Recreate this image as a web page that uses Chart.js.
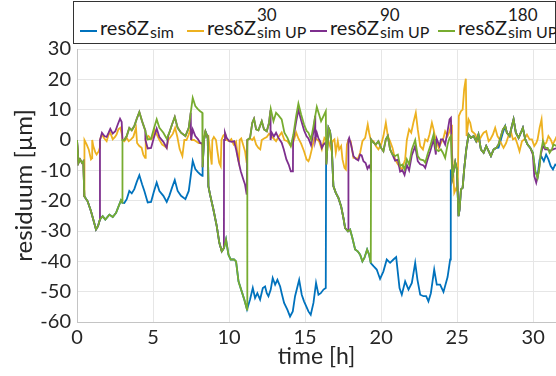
<!DOCTYPE html>
<html>
<head>
<meta charset="utf-8">
<script src="https://cdn.jsdelivr.net/npm/chart.js@4/dist/chart.umd.min.js"></script>
<style>
  body { margin: 0; background: #fff; }
  #wrap { position: relative; width: 556px; height: 376px; overflow: hidden; }
  #legend {
    position: absolute; left: 73px; top: 1px; width: 481px; height: 41px;
    border: 1.3px solid #333; background: #fff; font-family: Lato, sans-serif; color: #1a1a1a;
  }
  .item { position: absolute; top: 0; height: 40px; }
  .item span { position: absolute; white-space: nowrap; line-height: 1; }
  .item i { position: absolute; left: 0; top: 28px; width: 17px; height: 2px; }
  .m { font-size: 20px; left: 20px; top: 15px; }
  .up { font-size: 17px; top: 4px; }
  .dn { font-size: 16px; top: 22px; }
</style>
</head>
<body>
<div id="wrap">
  <canvas id="chart" width="556" height="376"></canvas>
  <div id="legend"></div>
</div>
<script>
// time [h] / residuum [µm] points
const blue = [[0,0],[0.1,-7.5],[0.2,-6.4],[0.33,-7.5],[0.42,-7.0],[0.48,-18.5],[0.7,-20.2],[0.92,-23.5],[1.07,-26.2],[1.25,-29.5],[1.38,-28.4],[1.51,-26.2],[1.69,-25.1],[1.86,-26.2],[2.13,-24.6],[2.35,-25.4],[2.57,-24.0],[2.74,-21.8],[2.89,-19.9],[2.98,-20.7],
  [3.11,-20.8],[3.27,-19.5],[3.44,-16.8],[3.6,-17.6],[3.77,-16.2],[3.93,-13.8],[4.1,-11.6],[4.28,-14.6],[4.43,-16.8],[4.65,-20.6],[4.87,-20.4],[5.04,-17.3],[5.24,-14.0],[5.42,-16.8],[5.68,-18.4],[5.9,-20.4],[6.07,-18.4],[6.25,-15.7],[6.43,-13.2],[6.62,-16.8],[6.84,-18.4],[7.13,-19.5],[7.35,-16.8],[7.48,-11.8],[7.61,-6.9],[7.78,-9.6],[7.95,-10.6],[8.1,-11.3],[8.24,-11.8],
  [8.26,-9.0],[8.35,0],[8.45,2.8],[8.55,1.5],[8.6,0.5],[8.64,-15.2],[8.75,-18],[8.97,-22.9],[9.19,-28.4],[9.36,-33.9],[9.52,-36.7],[9.67,-35.6],[9.8,-32.8],[9.96,-37.8],[10.11,-39.4],[10.33,-39.4],[10.46,-40.0],[10.62,-46.6],[10.83,-49.9],[11.0,-52.6],[11.18,-55.9],
  [11.38,-52.6],[11.56,-48.8],[11.71,-52.1],[11.86,-50.5],[12.04,-52.6],[12.22,-48.8],[12.37,-48.3],[12.48,-50.5],[12.59,-51.5],[12.74,-49.3],[12.87,-45.5],[13.03,-47.7],[13.18,-46.1],[13.36,-48.3],[13.46,-50.5],[13.62,-53.7],[13.84,-56.0],[14.01,-58.2],[14.19,-56.5],[14.34,-51.5],[14.5,-48.3],[14.61,-46.1],[14.78,-51.0],[14.93,-53.2],[15.07,-54.8],[15.22,-56.5],[15.37,-57.6],[15.55,-53.7],[15.72,-47.1],[15.88,-51.0],[16.03,-50.5],[16.21,-49.3],[16.36,-48.8],
  [16.38,-8.1],[16.54,4.0],[16.64,2.9],[16.75,-2.0],[16.86,-15.2],[17.02,-17.4],[17.19,-19.1],[17.37,-21.9],[17.52,-25.7],[17.63,-29.0],[17.81,-30.1],[17.96,-29.5],[18.11,-32.3],[18.29,-36.1],[18.46,-36.7],[18.62,-37.8],[18.77,-40.0],[18.9,-38.9],[19.08,-36.1],[19.21,-37.8],[19.32,-40.6],
  [19.5,-41.6],[19.71,-42.7],[19.93,-45.8],[20.15,-43.3],[20.37,-39.4],[20.59,-40.5],[20.81,-39.4],[20.99,-38.6],[21.21,-48.8],[21.36,-51.0],[21.58,-46.6],[21.8,-49.3],[22.02,-47.1],[22.24,-40.5],[22.39,-46.1],[22.57,-51.0],[22.79,-51.5],[22.96,-51.5],[23.11,-53.2],[23.27,-50.5],[23.49,-42.7],[23.66,-47.7],[23.88,-47.7],[24.1,-50.1],[24.37,-45.2],[24.54,-39.4],
  [24.58,-9.7],[24.68,-12.5],[24.87,-7.3],[24.98,-9.7],[25.09,-25.1],[25.16,-22.9],[25.25,-16.3],[25.36,-15.8],[25.46,-9.7],[25.6,-3.1],[25.75,1.8],[25.9,0.7],[26.08,1.3],[26.25,-0.4],[26.4,1.8],[26.56,-3.1],[26.74,-4.2],[26.91,-2.0],[27.07,-3.7],[27.22,-5.3],[27.4,-3.1],[27.57,-2.6],[27.72,-2.5],[27.88,0.2],[28.01,2.5],[28.16,4.6],[28.27,2.4],[28.45,1.3],[28.6,4.6],[28.71,6.8],[28.86,2.4],[29.04,0.7],[29.19,2.4],[29.32,4.0],[29.48,0.2],[29.63,-1.5],[29.81,-2.6],[29.98,-4.2],
  [30.14,-10.5],[30.29,-12.0],[30.42,-6.5],[30.55,-5.5],[30.7,-7.0],[30.85,-4.8],[31.0,-6.4],[31.15,-8.6],[31.3,-9.7],[31.45,-8.1],[31.55,-8.5]];

const orange = [[0,0],[0.1,-7.5],[0.2,-6.4],[0.33,-7.5],[0.42,-7.0],[0.48,-18.5],[0.49,0],[0.64,-1.5],[0.77,-3.1],[0.92,-6.4],[0.99,-6.0],[1.0,0],[1.07,-2.0],[1.2,-4.0],[1.29,-4.8],[1.43,-3.7],[1.5,-2.5],[1.51,0],[1.64,1.8],[1.8,0.5],[1.95,-0.4],[2.08,1.8],[2.19,2.4],[2.35,0.2],[2.5,1.0],[2.6,1.8],[2.72,3.5],[2.85,4.0],[2.95,2.0],[3.0,0],
  [3.11,-0.4],[3.27,0.7],[3.4,-0.4],[3.55,0.2],[3.7,1.0],[3.88,4.0],[3.95,-1.0],[4.1,-2.0],[4.25,-2.6],[4.36,-4.8],[4.48,-5.9],[4.52,0.5],[4.7,1.3],[4.87,0.2],[5.0,1.0],[5.09,3.5],[5.25,1.8],[5.4,0.2],[5.6,-1.5],[5.75,-2.0],[5.9,-2.6],[6.0,0],[6.15,1.0],[6.3,2.0],[6.45,4.0],[6.6,1.0],[6.75,-3.0],[6.93,-5.3],[7.06,0],[7.2,0],[7.35,1.8],[7.45,3.5],[7.54,0],[7.7,0],[7.85,-0.5],[8.0,-1.0],[8.1,-1.0],[8.24,-1.5],[8.3,0],
  [8.42,2.5],[8.55,1.0],[8.64,1.3],[8.75,-3.7],[8.86,-8.1],[8.9,0],[9.0,1.0],[9.14,0],[9.25,-4.2],[9.35,-7.5],[9.45,-8.6],[9.5,0],[9.62,1.5],[9.75,2.0],[9.86,0],[10.02,-0.4],[10.15,0.3],[10.3,-1.5],[10.46,-0.5],[10.58,-5.9],[10.65,-7.5],[10.7,0],[10.8,0.5],[10.92,-1.5],[11.05,-3.7],[11.16,-7.5],[11.2,0],
  [11.38,0.5],[11.53,0],[11.64,0.8],[11.78,-1.5],[11.93,-2.6],[12.05,-3.1],[12.15,0],[12.3,0.5],[12.48,1.0],[12.63,2.1],[12.74,1.5],[12.92,0.5],[13.09,-0.4],[13.25,1.0],[13.46,2.5],[13.64,0],[13.84,-0.4],[14.06,-2.0],[14.23,-0.6],[14.41,2.5],[14.56,0.5],[14.74,-1.2],[14.93,-3.7],[15.1,-6.4],[15.22,-7.0],[15.3,-6.0],
  [15.44,-3.1],[15.61,0.7],[15.77,0.2],[15.92,-0.4],[16.1,-3.1],[16.27,0.7],[16.4,0],[16.54,-0.4],[16.71,-3.1],[16.8,-0.4],[16.93,0.2],[17.02,-4.2],[17.15,-0.4],[17.24,-3.1],[17.37,-2.0],[17.46,-6.4],[17.59,-9.2],[17.68,-9.7],[17.75,-1.5],[17.85,0],[18.0,-0.4],[18.18,-5.9],[18.33,-5.9],[18.46,-6.4],[18.62,-4.2],[18.77,-0.4],[18.95,0.7],[19.12,5.1],[19.21,2.4],[19.34,-0.4],
  [19.5,-0.4],[19.65,-2.0],[19.82,-3.1],[20.0,-1.5],[20.15,1.3],[20.31,5.7],[20.44,1.3],[20.59,-0.4],[20.75,-2.6],[20.92,-6.4],[21.1,-8.0],[21.25,-9.0],[21.36,-9.7],[21.58,-6.4],[21.69,0],[21.84,3.5],[21.98,2.4],[22.12,5.7],[22.28,9.0],[22.41,3.5],[22.57,-2.0],[22.75,-3.1],[22.9,0.2],[23.05,-0.4],[23.18,1.8],[23.34,5.7],[23.45,3.5],[23.56,0.7],[23.67,-0.4],[23.78,-2.6],[23.93,-1.0],[24.1,0.7],[24.21,2.9],[24.37,1.3],[24.5,2.9],[24.6,5.0],
  [24.66,-4.2],[24.72,-8.6],[24.81,-17.4],[24.94,-15.8],[25.03,-16.9],[25.11,7.9],[25.25,9.5],[25.36,10.0],[25.46,16.7],[25.57,20.2],[25.62,1.3],[25.75,6.8],[25.86,5.7],[25.97,2.9],[26.08,2.4],[26.2,1.8],[26.34,-0.4],[26.48,0.2],[26.6,1.3],[26.74,2.4],[26.91,2.9],[27.07,-0.4],[27.18,0.2],[27.35,1.8],[27.5,4.0],[27.65,1.3],[27.78,0.2],[27.94,-1.5],[28.05,-2.6],[28.22,-1.0],[28.37,1.3],[28.53,2.9],[28.67,0.2],[28.82,0.7],[28.97,-1.5],[29.1,-3.7],[29.26,-0.4],[29.41,0.2],[29.59,1.8],[29.76,0.2],[29.92,0.2],[30.07,-2.0],[30.2,-1.0],[30.29,0.2],[30.42,4.0],[30.55,6.8],[30.64,0.2],[30.73,-1.5],[30.86,-0.9],[31.0,1.3],[31.15,0.2],[31.28,-1.5],[31.4,-0.4],[31.55,1.3]];

const purple = [[0,0],[0.1,-7.5],[0.2,-6.4],[0.33,-7.5],[0.42,-7.0],[0.48,-18.5],[0.7,-20.2],[0.92,-23.5],[1.07,-26.2],[1.25,-29.5],[1.38,-28.4],[1.5,-26.3],
  [1.51,0],[1.64,2.4],[1.8,1.3],[1.95,1.0],[2.08,2.4],[2.19,3.7],[2.35,2.1],[2.52,2.9],[2.68,5.1],[2.83,7.0],[2.94,5.9],[2.99,0],
  [3.11,0],[3.27,1.3],[3.44,4.0],[3.6,3.2],[3.77,4.6],[3.93,7.0],[4.1,9.2],[4.28,6.2],[4.43,4.0],[4.49,3.2],
  [4.5,0],[4.65,-2.8],[4.87,-2.6],[5.04,0.5],[5.24,3.8],[5.42,1.0],[5.68,-0.6],[5.9,-2.6],
  [6.0,1.4],[6.07,2.4],[6.25,5.1],[6.43,7.6],[6.62,4.0],[6.84,2.4],[7.13,1.3],[7.35,4.0],[7.48,9.0],
  [7.5,0],[7.61,3.5],[7.78,1.3],[7.95,0.3],[8.1,-1.0],[8.24,-1.0],
  [8.26,-9.0],[8.35,0],[8.45,2.8],[8.55,1.5],[8.6,0.5],[8.64,-15.2],[8.75,-18],[8.97,-22.9],[9.19,-28.4],[9.36,-33.9],[9.52,-36.7],[9.66,-35.6],
  [9.67,0],[9.73,2.4],[9.84,0.7],[10.02,-0.4],[10.18,-0.6],[10.33,-0.4],[10.46,-3.1],[10.62,-7.0],[10.77,-10.3],[10.94,-13.0],[11.05,-14.7],[11.16,-18.0],
  [11.2,0],[11.38,0.7],[11.53,5.7],[11.64,7.0],[11.78,3.5],[11.93,3.2],[12.15,6.2],[12.3,3.5],[12.48,2.9],[12.63,5.7],[12.72,9.8],
  [12.73,0],[12.81,2.4],[12.95,1.2],[13.09,2.4],[13.25,0.7],[13.46,-0.9],[13.6,-3.1],[13.77,-6.4],[13.92,-8.1],[14.06,-10.3],[14.2,-10.3],
  [14.21,0],[14.41,6.0],[14.56,10.0],[14.74,6.5],[14.93,3.2],[15.1,1.2],[15.22,0.5],[15.39,-1.7],[15.55,2.7],[15.66,8.0],
  [15.67,0],[15.77,2.4],[15.88,0.5],[16.0,-0.5],[16.1,-2.6],[16.21,-1.5],[16.36,-0.8],
  [16.4,-8.1],[16.54,4.0],[16.64,2.9],[16.75,-2.0],[16.86,-15.2],[17.02,-17.4],[17.19,-19.1],[17.37,-21.9],[17.52,-25.7],[17.63,-29.0],[17.84,-30.1],
  [17.85,0],[17.9,0.7],[18.02,-1.5],[18.18,-5.3],[18.33,-6.2],[18.5,-6.7],[18.62,-4.8],[18.72,-5.1],[18.84,-7.0],[18.98,-7.6],[19.1,-9.5],[19.21,-8.5],[19.32,-9.7],
  [19.34,0.2],[19.5,-0.9],[19.65,-1.5],[19.82,-0.4],[20.0,-2.6],[20.15,-3.7],[20.31,0.2],[20.44,1.3],[20.59,-3.1],[20.75,-4.8],
  [20.92,-6.8],[21.1,-6.5],[21.25,-10.4],[21.4,-10.0],[21.54,-11.5],[21.69,-8.2],[21.84,-10.0],[22.02,-5.0],[22.24,-2.0],[22.41,-7.0],[22.57,-8.0],[22.79,-8.4],[22.9,-9.2],[23.05,-6.5],[23.23,-3.7],[23.45,0.2],[23.6,-4.8],
  [23.62,0],[23.67,0.2],[23.84,-2.0],[23.93,0.2],[24.06,0.2],[24.21,-1.5],[24.37,2.9],[24.5,6.8],[24.59,7.3],
  [24.68,-12.5],[24.87,-7.3],[24.98,-9.7],[25.09,-25.1],[25.16,-22.9],[25.25,-16.3],[25.36,-15.8],[25.46,-9.7],[25.6,-3.1],[25.75,1.8],[25.9,0.7],[26.08,1.3],[26.25,-0.4],[26.4,1.8],[26.56,-3.1],[26.74,-4.2],[26.91,-2.0],[27.07,-3.7],[27.22,-5.3],[27.4,-3.1],[27.57,-2.6],[27.72,-1.5],[27.88,1.3],[28.01,3.5],[28.16,4.6],[28.27,2.4],[28.45,1.3],[28.6,4.6],[28.71,6.8],[28.86,2.4],[29.04,0.7],[29.19,2.4],[29.32,4.0],[29.48,0.2],[29.63,-1.5],[29.81,-2.6],
  [29.98,-4.8],[30.07,-11.9],[30.2,-14.1],[30.35,-10.8],[30.5,-4.8],[30.64,-2.0],[30.79,-3.1],[30.95,-3.1],[31.08,-3.5],[31.23,-3.3],[31.34,-3.0],[31.55,-2.7]];

const green = [[0,0],[0.1,-7.5],[0.2,-6.4],[0.33,-7.5],[0.42,-7.0],[0.48,-18.5],[0.7,-20.2],[0.92,-23.5],[1.07,-26.2],[1.25,-29.5],[1.38,-28.4],[1.51,-26.2],[1.69,-25.1],[1.86,-26.2],[2.13,-24.6],[2.35,-25.4],[2.57,-24.0],[2.74,-21.8],[2.89,-19.9],[2.98,-20.7],
  [2.99,0],[3.11,0],[3.27,1.3],[3.44,4.0],[3.6,3.2],[3.77,4.6],[3.93,7.0],[4.1,9.2],[4.28,6.2],[4.43,4.0],[4.65,0.2],[4.87,0.4],[5.04,3.5],[5.24,6.8],[5.42,4.0],[5.68,2.4],[5.9,0.4],[6.07,2.4],[6.25,5.1],[6.43,7.6],[6.62,4.0],[6.84,2.4],[7.13,1.3],[7.35,4.0],[7.48,9.0],[7.61,13.9],[7.78,11.2],[7.95,10.2],[8.1,9.5],[8.24,9.0],
  [8.26,-9.0],[8.35,0],[8.45,2.8],[8.55,1.5],[8.6,0.5],[8.64,-15.2],[8.75,-18],[8.97,-22.9],[9.19,-28.4],[9.36,-33.9],[9.52,-36.7],[9.67,-35.6],[9.8,-32.8],[9.96,-37.8],[10.11,-39.4],[10.33,-39.4],[10.46,-40.0],[10.62,-46.6],[10.83,-49.9],[11.0,-52.6],[11.18,-55.9],
  [11.2,0],[11.38,0.7],[11.53,5.7],[11.64,7.0],[11.78,3.5],[11.93,3.2],[12.15,6.2],[12.3,3.5],[12.48,2.9],[12.63,5.7],[12.74,10.3],[12.92,6.2],[13.09,9.0],[13.25,8.1],[13.46,6.8],[13.64,2.4],[13.84,0.7],[14.06,-2.0],[14.23,1.8],[14.41,7.9],[14.56,12.0],[14.74,8.4],[14.93,5.1],[15.1,3.0],[15.22,2.4],[15.39,0.2],[15.55,4.6],[15.77,10.9],[15.92,8.4],[16.05,6.2],[16.21,7.9],[16.36,9.5],
  [16.4,-8.1],[16.54,4.0],[16.64,2.9],[16.75,-2.0],[16.86,-15.2],[17.02,-17.4],[17.19,-19.1],[17.37,-21.9],[17.52,-25.7],[17.63,-29.0],[17.81,-30.1],[17.96,-29.5],[18.11,-32.3],[18.29,-36.1],[18.46,-36.7],[18.62,-37.8],[18.77,-40.0],[18.9,-38.9],[19.08,-36.1],[19.21,-37.8],[19.32,-40.6],
  [19.34,0.2],[19.5,-0.9],[19.65,-1.5],[19.82,-0.4],[20.0,-2.6],[20.15,-3.7],[20.31,0.2],[20.44,1.3],[20.59,-3.1],[20.75,-4.8],[20.92,-5.3],[21.1,-4.8],[21.25,-8.6],[21.4,-8.1],[21.54,-9.7],[21.69,-6.4],[21.84,-8.1],[22.02,-3.1],[22.24,0],[22.41,-5.3],[22.57,-6.4],[22.79,-6.7],[22.9,-7.5],[23.05,-4.8],[23.23,-2.0],[23.45,1.8],[23.62,-3.1],[23.78,-3.7],[23.93,-3.1],[24.06,-4.2],[24.21,-5.9],[24.37,-1.5],[24.5,0.7],[24.59,1.3],
  [24.68,-12.5],[24.87,-7.3],[24.98,-9.7],[25.09,-25.1],[25.16,-22.9],[25.25,-16.3],[25.36,-15.8],[25.46,-9.7],[25.6,-3.1],[25.75,1.8],[25.9,0.7],[26.08,1.3],[26.25,-0.4],[26.4,1.8],[26.56,-3.1],[26.74,-4.2],[26.91,-2.0],[27.07,-3.7],[27.22,-5.3],[27.4,-3.1],[27.57,-2.6],[27.72,-1.5],[27.88,1.3],[28.01,3.5],[28.16,4.6],[28.27,2.4],[28.45,1.3],[28.6,4.6],[28.71,6.8],[28.86,2.4],[29.04,0.7],[29.19,2.4],[29.32,4.0],[29.48,0.2],[29.63,-1.5],[29.81,-2.6],[29.98,-4.2],[30.14,-10.3],[30.29,-12.5],[30.42,-8.6],[30.5,-4.2],[30.64,-0.4],[30.79,-2.6],[30.95,-2.6],[31.08,-4.2],[31.23,-3.1],[31.34,-1.5],[31.55,-2.0]];

const xTicks = [0, 5, 10, 15, 20, 25, 30];
const yTicks = [-60, -50, -40, -30, -20, -10, 0, 10, 20, 30];

// legend labels: resδZ with superscript / subscript parts
const seriesSup = ["", "30", "90", "180"];
const seriesSub = ["sim", "sim UP", "sim UP", "sim UP"];
const colors = ["#0072BD", "#EDB120", "#7E2F8E", "#77AC30"];
const seriesData = [blue, orange, purple, green];

const legendLeft = [6, 113, 236, 364];
const legend = document.getElementById("legend");
seriesData.forEach((s, i) => {
  const item = document.createElement("div");
  item.className = "item";
  item.style.left = legendLeft[i] + "px";
  item.innerHTML = `<i style="background:${colors[i]}"></i><span class="m">resδZ</span>` +
    `<span class="up">${seriesSup[i]}</span><span class="dn">${seriesSub[i]}</span>`;
  legend.appendChild(item);
  const w = item.querySelector(".m").offsetWidth;
  item.querySelector(".up").style.left = (21 + w) + "px";
  item.querySelector(".dn").style.left = (21 + w) + "px";
});

const font = "Lato, sans-serif";
new Chart(document.getElementById("chart"), {
  type: "line",
  data: {
    datasets: seriesData.map((s, i) => ({
      data: s.map(p => ({ x: p[0], y: p[1] })),
      borderColor: colors[i],
      borderWidth: 1.8,
      pointRadius: 0,
      tension: 0,
      order: 3 - i
    }))
  },
  options: {
    responsive: false,
    animation: false,
    devicePixelRatio: 1,
    layout: { padding: { top: 49, left: 0, right: 0, bottom: 0 } },
    plugins: { legend: { display: false }, tooltip: { enabled: false } },
    scales: {
      x: {
        type: "linear", min: 0, max: 31.5,
        afterBuildTicks: sc => { sc.ticks = xTicks.map(v => ({ value: v })); },
        afterFit: sc => { sc.height = 54; },
        grid: { color: "#e6e6e6", drawTicks: false },
        border: { color: "#c4c4c4" },
        ticks: { font: { family: font, size: 20 }, color: "#262626", padding: 4, maxRotation: 0 },
        title: { display: true, text: "time [h]", font: { family: font, size: 23 }, color: "#262626", padding: { top: 0, bottom: 6 } }
      },
      y: {
        min: -60, max: 30,
        afterBuildTicks: sc => { sc.ticks = yTicks.map(v => ({ value: v })); },
        afterFit: sc => { sc.width = 77; },
        grid: { color: "#e6e6e6", drawTicks: false },
        border: { color: "#c4c4c4" },
        ticks: { font: { family: font, size: 20 }, color: "#262626", padding: 6 },
        title: { display: true, text: "residuum [µm]", font: { family: font, size: 24 }, color: "#262626", padding: { top: 10, bottom: 0 } }
      }
    }
  }
});
</script>
</body>
</html>
